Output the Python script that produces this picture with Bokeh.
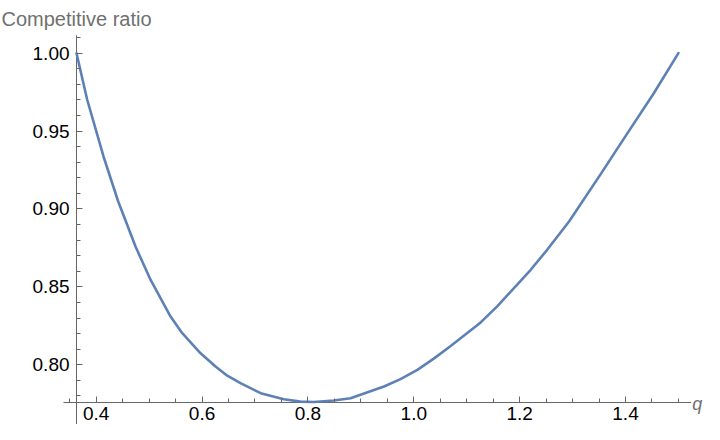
from bokeh.plotting import figure
from bokeh.models import Range1d, FixedTicker, Label
from bokeh.embed import file_html
from bokeh.resources import INLINE

# Data
q_values = [0.3628, 0.3830, 0.4138, 0.4416, 0.4743, 0.5026, 0.5405, 0.5626,
            0.5972, 0.6255, 0.6476, 0.6726, 0.7107, 0.7546, 0.7860, 0.8113,
            0.8489, 0.8806, 0.9437, 0.9749, 1.0068, 1.0378, 1.0697, 1.1264,
            1.1576, 1.2209, 1.2520, 1.2934, 1.3528, 1.4038, 1.4535, 1.5000]
ratio_values = [1.000, 0.9701, 0.9337, 0.9048, 0.8759, 0.8546, 0.8310, 0.8203,
                0.8074, 0.7989, 0.7930, 0.7882, 0.7818, 0.7779, 0.7764, 0.7761,
                0.7771, 0.7786, 0.7861, 0.7908, 0.7968, 0.8040, 0.8121, 0.8272,
                0.8375, 0.8610, 0.8738, 0.8920, 0.9222, 0.9487, 0.9743, 1.000]

x_major = [0.4, 0.6, 0.8, 1.0, 1.2, 1.4]
x_minor = [0.35, 0.45, 0.5, 0.55, 0.65, 0.7, 0.75, 0.85, 0.9, 0.95, 1.05, 1.1,
           1.15, 1.25, 1.3, 1.35, 1.45, 1.5]
y_major = [0.80, 0.85, 0.90, 0.95, 1.00]
y_minor = [0.78, 0.79, 0.81, 0.82, 0.83, 0.84, 0.86, 0.87, 0.88, 0.89, 0.91,
           0.92, 0.93, 0.94, 0.96, 0.97, 0.98, 0.99, 1.01]
x_labels = {0.4: "0.4", 0.6: "0.6", 0.8: "0.8", 1.0: "1.0", 1.2: "1.2", 1.4: "1.4"}
y_labels = {0.80: "0.80", 0.85: "0.85", 0.90: "0.90", 0.95: "0.95", 1.00: "1.00"}
y_title = "Competitive ratio"
x_title = "q"

# axes crossing point and extents of the Mathematica-style axis lines
x_origin = 0.3628
y_origin = 0.7758
x_axis_start = 0.3382
x_axis_end = 1.524
y_axis_end = 1.0114

# plotting window
X_START, X_END = 0.21919, 1.54926
Y_START, Y_END = 0.7617, 1.0338

FONT = "Liberation Sans"
AXIS_COLOR = "#666666"
LABEL_GRAY = "#707070"

p = figure(width=704, height=424, output_backend="svg", toolbar_location=None,
           x_range=Range1d(X_START, X_END), y_range=Range1d(Y_START, Y_END),
           min_border_left=0, min_border_right=0, min_border_top=0,
           min_border_bottom=0)
p.outline_line_color = None
p.grid.visible = False
p.background_fill_color = "white"

# axis lines
p.segment(x0=[x_axis_start, x_origin], y0=[y_origin, Y_START],
          x1=[x_axis_end, x_origin], y1=[y_origin, y_axis_end],
          line_color=AXIS_COLOR, line_width=1)

p.line(q_values, ratio_values, line_color="#5E81B5", line_width=2.6,
       line_join="round", line_cap="round")

# ticks and tick labels, axes crossing at the origin point
p.xaxis.fixed_location = y_origin
p.yaxis.fixed_location = x_origin
for ax in (p.xaxis[0], p.yaxis[0]):
    ax.axis_line_color = None
    ax.major_tick_line_color = AXIS_COLOR
    ax.minor_tick_line_color = AXIS_COLOR
    ax.major_tick_in = 6
    ax.major_tick_out = 0
    ax.minor_tick_in = 4
    ax.minor_tick_out = 0
    ax.major_label_text_font = FONT
    ax.major_label_text_font_size = "19px"
    ax.major_label_text_color = "#000000"

p.xaxis.ticker = FixedTicker(ticks=x_major, minor_ticks=x_minor)
p.yaxis.ticker = FixedTicker(ticks=y_major, minor_ticks=y_minor)
p.xaxis.major_label_overrides = x_labels
p.yaxis.major_label_overrides = y_labels
p.xaxis.major_label_standoff = 4
p.yaxis.major_label_standoff = 7

# axis titles
p.add_layout(Label(x=X_START, y=Y_END, x_offset=1, y_offset=-18, text=y_title,
                   text_font=FONT, text_font_size="20px", text_color=LABEL_GRAY,
                   text_baseline="alphabetic"))
p.add_layout(Label(x=x_axis_end, y=y_origin, x_offset=1, y_offset=-1, text=x_title,
                   text_font=FONT, text_font_size="18px", text_font_style="italic",
                   text_color=LABEL_GRAY, text_baseline="middle"))

open("out.html", "w").write(file_html(p, INLINE))
